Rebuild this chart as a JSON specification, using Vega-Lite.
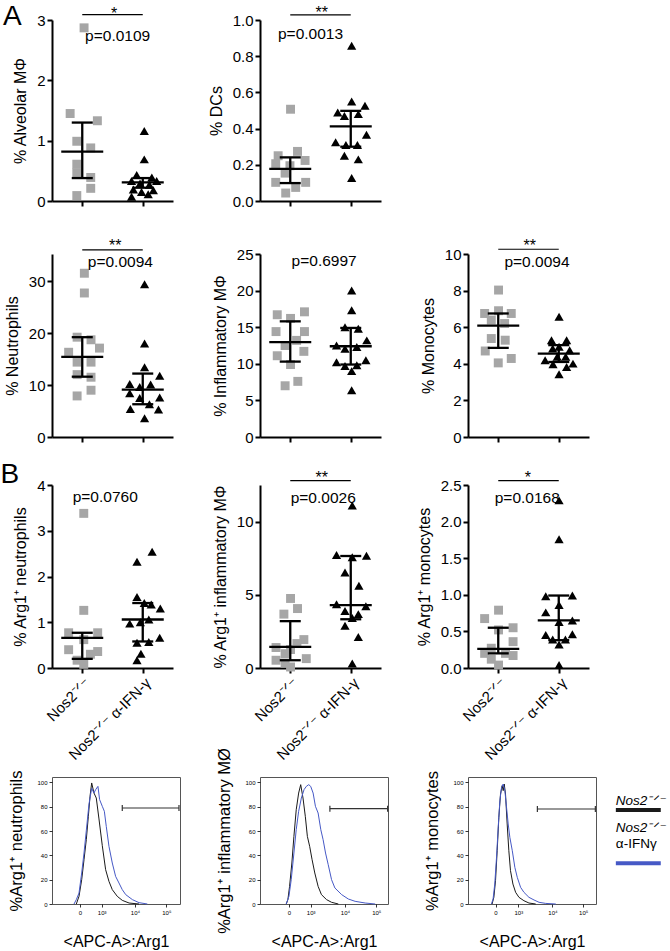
{
"$schema": "https://vega.github.io/schema/vega-lite/v6.json",
"autosize": "none",
"padding": {"left": 52, "top": 20, "right": 618, "bottom": 931},
"columns": 3,
"spacing": {"row": 0, "column": 80},
"bounds": "flush",
"align": "each",
"datasets": {
"pts": [
{"panel":"alv","group":"N","x":1.06,"y":2.87},{"panel":"alv","group":"N","x":0.60,"y":1.45},{"panel":"alv","group":"N","x":1.50,"y":1.33},{"panel":"alv","group":"N","x":0.82,"y":0.99},{"panel":"alv","group":"N","x":1.28,"y":0.88},{"panel":"alv","group":"N","x":0.82,"y":0.61},{"panel":"alv","group":"N","x":0.82,"y":0.47},{"panel":"alv","group":"N","x":1.28,"y":0.39},{"panel":"alv","group":"N","x":1.28,"y":0.21},{"panel":"alv","group":"N","x":0.82,"y":0.09},
{"panel":"alv","group":"I","x":3.05,"y":1.16},{"panel":"alv","group":"I","x":3.05,"y":0.69},{"panel":"alv","group":"I","x":2.80,"y":0.43},{"panel":"alv","group":"I","x":3.30,"y":0.39},{"panel":"alv","group":"I","x":2.63,"y":0.33},{"panel":"alv","group":"I","x":3.46,"y":0.33},{"panel":"alv","group":"I","x":2.91,"y":0.29},{"panel":"alv","group":"I","x":3.22,"y":0.27},{"panel":"alv","group":"I","x":2.69,"y":0.19},{"panel":"alv","group":"I","x":3.35,"y":0.18},{"panel":"alv","group":"I","x":2.96,"y":0.15},{"panel":"alv","group":"I","x":3.18,"y":0.11},{"panel":"alv","group":"I","x":2.63,"y":0.07},
{"panel":"dc","group":"N","x":1.01,"y":0.507},{"panel":"dc","group":"N","x":0.60,"y":0.25},{"panel":"dc","group":"N","x":1.24,"y":0.274},{"panel":"dc","group":"N","x":1.49,"y":0.224},{"panel":"dc","group":"N","x":0.52,"y":0.206},{"panel":"dc","group":"N","x":0.99,"y":0.195},{"panel":"dc","group":"N","x":0.83,"y":0.154},{"panel":"dc","group":"N","x":0.52,"y":0.103},{"panel":"dc","group":"N","x":1.51,"y":0.103},{"panel":"dc","group":"N","x":1.18,"y":0.075},{"panel":"dc","group":"N","x":0.85,"y":0.044},
{"panel":"dc","group":"I","x":3.03,"y":0.858},{"panel":"dc","group":"I","x":3.03,"y":0.55},{"panel":"dc","group":"I","x":2.57,"y":0.489},{"panel":"dc","group":"I","x":3.47,"y":0.526},{"panel":"dc","group":"I","x":2.79,"y":0.47},{"panel":"dc","group":"I","x":3.25,"y":0.48},{"panel":"dc","group":"I","x":3.52,"y":0.366},{"panel":"dc","group":"I","x":2.50,"y":0.324},{"panel":"dc","group":"I","x":2.84,"y":0.31},{"panel":"dc","group":"I","x":3.22,"y":0.31},{"panel":"dc","group":"I","x":2.79,"y":0.25},{"panel":"dc","group":"I","x":3.25,"y":0.23},{"panel":"dc","group":"I","x":3.03,"y":0.127},
{"panel":"neu","group":"N","x":1.07,"y":31.5},{"panel":"neu","group":"N","x":1.07,"y":27.7},{"panel":"neu","group":"N","x":0.83,"y":19.2},{"panel":"neu","group":"N","x":1.29,"y":18.7},{"panel":"neu","group":"N","x":0.55,"y":16.3},{"panel":"neu","group":"N","x":1.57,"y":17.1},{"panel":"neu","group":"N","x":0.83,"y":14.4},{"panel":"neu","group":"N","x":1.29,"y":14.4},{"panel":"neu","group":"N","x":0.83,"y":12.0},{"panel":"neu","group":"N","x":1.29,"y":11.5},{"panel":"neu","group":"N","x":1.29,"y":9.0},{"panel":"neu","group":"N","x":0.83,"y":7.9},
{"panel":"neu","group":"I","x":3.06,"y":29.4},{"panel":"neu","group":"I","x":3.06,"y":18.0},{"panel":"neu","group":"I","x":3.06,"y":13.4},{"panel":"neu","group":"I","x":3.56,"y":11.8},{"panel":"neu","group":"I","x":2.57,"y":10.2},{"panel":"neu","group":"I","x":2.90,"y":9.6},{"panel":"neu","group":"I","x":3.26,"y":10.1},{"panel":"neu","group":"I","x":2.57,"y":8.4},{"panel":"neu","group":"I","x":2.90,"y":7.5},{"panel":"neu","group":"I","x":3.56,"y":7.6},{"panel":"neu","group":"I","x":3.22,"y":6.3},{"panel":"neu","group":"I","x":2.59,"y":5.4},{"panel":"neu","group":"I","x":3.52,"y":5.3},{"panel":"neu","group":"I","x":3.06,"y":3.6},
{"panel":"inf","group":"N","x":0.57,"y":16.7},{"panel":"inf","group":"N","x":1.01,"y":16.2},{"panel":"inf","group":"N","x":1.47,"y":17.1},{"panel":"inf","group":"N","x":1.47,"y":14.4},{"panel":"inf","group":"N","x":0.53,"y":14.4},{"panel":"inf","group":"N","x":1.21,"y":13.2},{"panel":"inf","group":"N","x":0.83,"y":12.5},{"panel":"inf","group":"N","x":0.57,"y":11.1},{"panel":"inf","group":"N","x":1.45,"y":11.7},{"panel":"inf","group":"N","x":1.01,"y":9.9},{"panel":"inf","group":"N","x":1.25,"y":7.6},{"panel":"inf","group":"N","x":0.83,"y":7.0},
{"panel":"inf","group":"I","x":3.03,"y":20.0},{"panel":"inf","group":"I","x":3.03,"y":17.3},{"panel":"inf","group":"I","x":2.81,"y":15.0},{"panel":"inf","group":"I","x":3.25,"y":14.8},{"panel":"inf","group":"I","x":2.53,"y":12.5},{"panel":"inf","group":"I","x":2.81,"y":12.05},{"panel":"inf","group":"I","x":3.20,"y":12.3},{"panel":"inf","group":"I","x":3.53,"y":13.2},{"panel":"inf","group":"I","x":2.53,"y":10.2},{"panel":"inf","group":"I","x":2.81,"y":9.7},{"panel":"inf","group":"I","x":3.20,"y":9.8},{"panel":"inf","group":"I","x":3.50,"y":10.5},{"panel":"inf","group":"I","x":3.03,"y":9.0},{"panel":"inf","group":"I","x":3.03,"y":6.4},
{"panel":"mon","group":"N","x":1.01,"y":8.03},{"panel":"mon","group":"N","x":0.55,"y":6.75},{"panel":"mon","group":"N","x":1.01,"y":6.9},{"panel":"mon","group":"N","x":1.43,"y":6.75},{"panel":"mon","group":"N","x":0.77,"y":6.39},{"panel":"mon","group":"N","x":1.21,"y":6.2},{"panel":"mon","group":"N","x":0.77,"y":5.38},{"panel":"mon","group":"N","x":1.23,"y":5.29},{"panel":"mon","group":"N","x":0.57,"y":4.7},{"panel":"mon","group":"N","x":1.43,"y":4.29},{"panel":"mon","group":"N","x":1.0,"y":4.05},
{"panel":"mon","group":"I","x":3.01,"y":6.57},{"panel":"mon","group":"I","x":2.76,"y":5.29},{"panel":"mon","group":"I","x":3.26,"y":5.29},{"panel":"mon","group":"I","x":2.80,"y":4.84},{"panel":"mon","group":"I","x":3.01,"y":4.93},{"panel":"mon","group":"I","x":3.36,"y":4.74},{"panel":"mon","group":"I","x":2.55,"y":4.2},{"panel":"mon","group":"I","x":2.95,"y":4.38},{"panel":"mon","group":"I","x":3.23,"y":4.38},{"panel":"mon","group":"I","x":3.47,"y":4.01},{"panel":"mon","group":"I","x":2.81,"y":3.98},{"panel":"mon","group":"I","x":3.26,"y":3.83},{"panel":"mon","group":"I","x":3.01,"y":3.43},
{"panel":"aneu","group":"N","x":1.05,"y":3.38},{"panel":"aneu","group":"N","x":1.05,"y":1.26},{"panel":"aneu","group":"N","x":0.55,"y":0.77},{"panel":"aneu","group":"N","x":1.51,"y":0.77},{"panel":"aneu","group":"N","x":1.05,"y":0.62},{"panel":"aneu","group":"N","x":0.55,"y":0.40},{"panel":"aneu","group":"N","x":1.51,"y":0.36},{"panel":"aneu","group":"N","x":1.27,"y":0.30},{"panel":"aneu","group":"N","x":0.83,"y":0.17},{"panel":"aneu","group":"N","x":1.05,"y":0.08},
{"panel":"aneu","group":"I","x":3.31,"y":2.54},{"panel":"aneu","group":"I","x":2.81,"y":2.32},{"panel":"aneu","group":"I","x":2.81,"y":1.55},{"panel":"aneu","group":"I","x":3.05,"y":1.42},{"panel":"aneu","group":"I","x":3.28,"y":1.39},{"panel":"aneu","group":"I","x":3.58,"y":1.30},{"panel":"aneu","group":"I","x":2.57,"y":0.97},{"panel":"aneu","group":"I","x":2.92,"y":1.0},{"panel":"aneu","group":"I","x":3.20,"y":1.06},{"panel":"aneu","group":"I","x":3.56,"y":0.66},{"panel":"aneu","group":"I","x":2.81,"y":0.55},{"panel":"aneu","group":"I","x":3.20,"y":0.57},{"panel":"aneu","group":"I","x":2.94,"y":0.31},{"panel":"aneu","group":"I","x":2.81,"y":0.17},
{"panel":"ainf","group":"N","x":1.01,"y":4.75},{"panel":"ainf","group":"N","x":1.24,"y":4.06},{"panel":"ainf","group":"N","x":0.79,"y":3.68},{"panel":"ainf","group":"N","x":1.45,"y":1.94},{"panel":"ainf","group":"N","x":1.22,"y":1.67},{"panel":"ainf","group":"N","x":0.53,"y":1.4},{"panel":"ainf","group":"N","x":1.01,"y":1.26},{"panel":"ainf","group":"N","x":0.83,"y":0.98},{"panel":"ainf","group":"N","x":0.53,"y":0.53},{"panel":"ainf","group":"N","x":1.53,"y":0.64},{"panel":"ainf","group":"N","x":0.83,"y":0.34},{"panel":"ainf","group":"N","x":1.01,"y":0.07},
{"panel":"ainf","group":"I","x":3.05,"y":11.1},{"panel":"ainf","group":"I","x":2.53,"y":7.72},{"panel":"ainf","group":"I","x":3.05,"y":7.56},{"panel":"ainf","group":"I","x":3.52,"y":7.67},{"panel":"ainf","group":"I","x":2.81,"y":6.53},{"panel":"ainf","group":"I","x":3.27,"y":5.62},{"panel":"ainf","group":"I","x":2.53,"y":4.36},{"panel":"ainf","group":"I","x":3.50,"y":4.22},{"panel":"ainf","group":"I","x":2.81,"y":3.9},{"panel":"ainf","group":"I","x":3.25,"y":3.68},{"panel":"ainf","group":"I","x":3.05,"y":3.42},{"panel":"ainf","group":"I","x":2.81,"y":2.88},{"panel":"ainf","group":"I","x":3.25,"y":2.12},{"panel":"ainf","group":"I","x":3.05,"y":0.3},
{"panel":"amon","group":"N","x":1.01,"y":0.79},{"panel":"amon","group":"N","x":0.55,"y":0.675},{"panel":"amon","group":"N","x":1.49,"y":0.55},{"panel":"amon","group":"N","x":1.01,"y":0.52},{"panel":"amon","group":"N","x":1.49,"y":0.36},{"panel":"amon","group":"N","x":0.77,"y":0.27},{"panel":"amon","group":"N","x":0.55,"y":0.20},{"panel":"amon","group":"N","x":1.24,"y":0.20},{"panel":"amon","group":"N","x":1.49,"y":0.17},{"panel":"amon","group":"N","x":0.77,"y":0.12},{"panel":"amon","group":"N","x":1.01,"y":0.04},
{"panel":"amon","group":"I","x":3.01,"y":2.29},{"panel":"amon","group":"I","x":3.01,"y":1.76},{"panel":"amon","group":"I","x":2.57,"y":0.98},{"panel":"amon","group":"I","x":3.45,"y":0.99},{"panel":"amon","group":"I","x":2.57,"y":0.76},{"panel":"amon","group":"I","x":3.01,"y":0.86},{"panel":"amon","group":"I","x":3.01,"y":0.63},{"panel":"amon","group":"I","x":3.45,"y":0.65},{"panel":"amon","group":"I","x":2.57,"y":0.45},{"panel":"amon","group":"I","x":3.45,"y":0.46},{"panel":"amon","group":"I","x":2.80,"y":0.39},{"panel":"amon","group":"I","x":3.22,"y":0.39},{"panel":"amon","group":"I","x":3.01,"y":0.32},{"panel":"amon","group":"I","x":3.01,"y":0.04}
],
"stats": [
{"panel":"alv","group":"N","x":1,"med":0.82,"lo":0.38,"hi":1.30},{"panel":"alv","group":"I","x":3,"med":0.31,"lo":0.22,"hi":0.38},
{"panel":"dc","group":"N","x":1,"med":0.178,"lo":0.099,"hi":0.241},{"panel":"dc","group":"I","x":3,"med":0.412,"lo":0.30,"hi":0.498},
{"panel":"neu","group":"N","x":1,"med":15.4,"lo":11.6,"hi":19.2},{"panel":"neu","group":"I","x":3,"med":9.1,"lo":6.3,"hi":12.2},
{"panel":"inf","group":"N","x":1,"med":12.95,"lo":10.3,"hi":15.8},{"panel":"inf","group":"I","x":3,"med":12.4,"lo":9.9,"hi":14.9},
{"panel":"mon","group":"N","x":1,"med":6.09,"lo":4.87,"hi":6.75},{"panel":"mon","group":"I","x":3,"med":4.56,"lo":4.1,"hi":5.02},
{"panel":"aneu","group":"N","x":1,"med":0.66,"lo":0.2,"hi":0.77},{"panel":"aneu","group":"I","x":3,"med":1.06,"lo":0.58,"hi":1.42},
{"panel":"ainf","group":"N","x":1,"med":1.44,"lo":0.53,"hi":3.2},{"panel":"ainf","group":"I","x":3,"med":4.29,"lo":3.33,"hi":7.65},
{"panel":"amon","group":"N","x":1,"med":0.26,"lo":0.2,"hi":0.55},{"panel":"amon","group":"I","x":3,"med":0.65,"lo":0.38,"hi":0.99}
],
"sig": [
{"panel":"alv","x1":1,"x2":3,"y":3.09},{"panel":"dc","x1":1,"x2":3,"y":1.028},{"panel":"neu","x1":1,"x2":3,"y":36.0},{"panel":"mon","x1":1,"x2":3,"y":10.26},{"panel":"ainf","x1":1,"x2":3,"y":12.8},{"panel":"amon","x1":1,"x2":3,"y":2.56}
],
"ann": [
{"panel":"alv","kind":"p","label":"p=0.0109","x":2.17,"y":2.66},{"panel":"alv","kind":"star","label":"*","x":2.05,"y":3.02},{"panel":"alv","kind":"letter","label":"A","x":-1.31,"y":2.92},
{"panel":"dc","kind":"p","label":"p=0.0013","x":1.67,"y":0.894},{"panel":"dc","kind":"star","label":"**","x":2.04,"y":1.012},
{"panel":"neu","kind":"p","label":"p=0.0094","x":2.26,"y":32.75},{"panel":"neu","kind":"star","label":"**","x":2.09,"y":35.7},
{"panel":"inf","kind":"p","label":"p=0.6997","x":2.12,"y":23.3},
{"panel":"mon","kind":"p","label":"p=0.0094","x":2.28,"y":9.3},{"panel":"mon","kind":"star","label":"**","x":2.04,"y":10.15},
{"panel":"aneu","kind":"p","label":"p=0.0760","x":1.76,"y":3.63},{"panel":"aneu","kind":"letter","label":"B","x":-1.39,"y":4.04},
{"panel":"ainf","kind":"p","label":"p=0.0026","x":2.09,"y":11.3},{"panel":"ainf","kind":"star","label":"**","x":2.04,"y":12.65},
{"panel":"amon","kind":"p","label":"p=0.0168","x":1.96,"y":2.26},{"panel":"amon","kind":"star","label":"*","x":1.98,"y":2.53}
],
"hist": [
{"panel":"h1","cond":"ctrl","x":19.0,"y":0},{"panel":"h1","cond":"ctrl","x":21.1,"y":6.3},{"panel":"h1","cond":"ctrl","x":23.2,"y":20.0},{"panel":"h1","cond":"ctrl","x":25.0,"y":36.4},{"panel":"h1","cond":"ctrl","x":26.8,"y":52.9},{"panel":"h1","cond":"ctrl","x":28.4,"y":72.1},{"panel":"h1","cond":"ctrl","x":29.7,"y":88.5},{"panel":"h1","cond":"ctrl","x":31.0,"y":99.5},{"panel":"h1","cond":"ctrl","x":32.8,"y":91.2},{"panel":"h1","cond":"ctrl","x":34.6,"y":87.1},{"panel":"h1","cond":"ctrl","x":36.7,"y":69.9},{"panel":"h1","cond":"ctrl","x":39.3,"y":47.9},{"panel":"h1","cond":"ctrl","x":41.9,"y":28.2},{"panel":"h1","cond":"ctrl","x":44.5,"y":18.6},{"panel":"h1","cond":"ctrl","x":47.1,"y":11.8},{"panel":"h1","cond":"ctrl","x":51.0,"y":6.3},{"panel":"h1","cond":"ctrl","x":54.9,"y":3.0},{"panel":"h1","cond":"ctrl","x":60.2,"y":0.8},{"panel":"h1","cond":"ctrl","x":68.0,"y":0},
{"panel":"h1","cond":"treated","x":17.2,"y":0},{"panel":"h1","cond":"treated","x":19.0,"y":3.6},{"panel":"h1","cond":"treated","x":21.1,"y":9.0},{"panel":"h1","cond":"treated","x":23.2,"y":25.5},{"panel":"h1","cond":"treated","x":25.0,"y":41.9},{"panel":"h1","cond":"treated","x":26.8,"y":60.3},{"panel":"h1","cond":"treated","x":28.9,"y":82.2},{"panel":"h1","cond":"treated","x":31.0,"y":95.1},{"panel":"h1","cond":"treated","x":32.8,"y":91.2},{"panel":"h1","cond":"treated","x":34.1,"y":94.0},{"panel":"h1","cond":"treated","x":35.9,"y":96.7},{"panel":"h1","cond":"treated","x":37.2,"y":85.8},{"panel":"h1","cond":"treated","x":39.3,"y":80.3},{"panel":"h1","cond":"treated","x":40.9,"y":76.2},{"panel":"h1","cond":"treated","x":42.4,"y":63.8},{"panel":"h1","cond":"treated","x":44.5,"y":47.4},{"panel":"h1","cond":"treated","x":47.1,"y":33.7},{"panel":"h1","cond":"treated","x":49.7,"y":22.7},{"panel":"h1","cond":"treated","x":52.3,"y":17.3},{"panel":"h1","cond":"treated","x":54.9,"y":11.8},{"panel":"h1","cond":"treated","x":57.6,"y":7.7},{"panel":"h1","cond":"treated","x":62.8,"y":3.6},{"panel":"h1","cond":"treated","x":68.0,"y":1.1},{"panel":"h1","cond":"treated","x":74.5,"y":0},
{"panel":"h2","cond":"ctrl","x":20.5,"y":0},{"panel":"h2","cond":"ctrl","x":21.8,"y":3.6},{"panel":"h2","cond":"ctrl","x":23.1,"y":14.5},{"panel":"h2","cond":"ctrl","x":24.9,"y":33.7},{"panel":"h2","cond":"ctrl","x":26.5,"y":55.6},{"panel":"h2","cond":"ctrl","x":28.3,"y":77.5},{"panel":"h2","cond":"ctrl","x":30.2,"y":91.2},{"panel":"h2","cond":"ctrl","x":31.8,"y":98.1},{"panel":"h2","cond":"ctrl","x":33.6,"y":87.1},{"panel":"h2","cond":"ctrl","x":35.4,"y":72.1},{"panel":"h2","cond":"ctrl","x":37.0,"y":55.6},{"panel":"h2","cond":"ctrl","x":38.8,"y":47.4},{"panel":"h2","cond":"ctrl","x":40.7,"y":36.4},{"panel":"h2","cond":"ctrl","x":42.8,"y":25.5},{"panel":"h2","cond":"ctrl","x":45.4,"y":14.5},{"panel":"h2","cond":"ctrl","x":48.0,"y":7.7},{"panel":"h2","cond":"ctrl","x":52.0,"y":3.6},{"panel":"h2","cond":"ctrl","x":55.9,"y":1.4},{"panel":"h2","cond":"ctrl","x":61.2,"y":0},
{"panel":"h2","cond":"treated","x":20.5,"y":0},{"panel":"h2","cond":"treated","x":22.6,"y":6.3},{"panel":"h2","cond":"treated","x":24.4,"y":20.0},{"panel":"h2","cond":"treated","x":26.5,"y":41.9},{"panel":"h2","cond":"treated","x":28.3,"y":61.1},{"panel":"h2","cond":"treated","x":30.2,"y":76.2},{"panel":"h2","cond":"treated","x":32.3,"y":87.1},{"panel":"h2","cond":"treated","x":34.4,"y":94.0},{"panel":"h2","cond":"treated","x":36.2,"y":96.7},{"panel":"h2","cond":"treated","x":38.1,"y":98.1},{"panel":"h2","cond":"treated","x":39.6,"y":96.7},{"panel":"h2","cond":"treated","x":41.5,"y":91.2},{"panel":"h2","cond":"treated","x":43.3,"y":80.3},{"panel":"h2","cond":"treated","x":45.4,"y":74.8},{"panel":"h2","cond":"treated","x":47.5,"y":61.1},{"panel":"h2","cond":"treated","x":49.3,"y":52.9},{"panel":"h2","cond":"treated","x":51.2,"y":41.9},{"panel":"h2","cond":"treated","x":53.3,"y":32.3},{"panel":"h2","cond":"treated","x":55.9,"y":20.0},{"panel":"h2","cond":"treated","x":58.5,"y":13.2},{"panel":"h2","cond":"treated","x":63.8,"y":7.7},{"panel":"h2","cond":"treated","x":69.0,"y":4.1},{"panel":"h2","cond":"treated","x":74.3,"y":2.2},{"panel":"h2","cond":"treated","x":82.2,"y":0.8},{"panel":"h2","cond":"treated","x":90.0,"y":0},
{"panel":"h3","cond":"ctrl","x":18.8,"y":0},{"panel":"h3","cond":"ctrl","x":20.2,"y":5.5},{"panel":"h3","cond":"ctrl","x":21.5,"y":19.2},{"panel":"h3","cond":"ctrl","x":22.8,"y":43.8},{"panel":"h3","cond":"ctrl","x":24.1,"y":71.2},{"panel":"h3","cond":"ctrl","x":25.4,"y":90.4},{"panel":"h3","cond":"ctrl","x":26.7,"y":97.3},{"panel":"h3","cond":"ctrl","x":27.5,"y":93.2},{"panel":"h3","cond":"ctrl","x":28.3,"y":98.6},{"panel":"h3","cond":"ctrl","x":29.3,"y":90.4},{"panel":"h3","cond":"ctrl","x":30.6,"y":65.8},{"panel":"h3","cond":"ctrl","x":31.9,"y":43.8},{"panel":"h3","cond":"ctrl","x":33.2,"y":27.4},{"panel":"h3","cond":"ctrl","x":35.1,"y":16.4},{"panel":"h3","cond":"ctrl","x":37.2,"y":9.6},{"panel":"h3","cond":"ctrl","x":39.8,"y":5.5},{"panel":"h3","cond":"ctrl","x":43.7,"y":2.7},{"panel":"h3","cond":"ctrl","x":47.6,"y":0.8},{"panel":"h3","cond":"ctrl","x":52.9,"y":0},
{"panel":"h3","cond":"treated","x":18.3,"y":0},{"panel":"h3","cond":"treated","x":19.6,"y":4.1},{"panel":"h3","cond":"treated","x":20.9,"y":16.4},{"panel":"h3","cond":"treated","x":22.3,"y":38.4},{"panel":"h3","cond":"treated","x":23.6,"y":63.0},{"panel":"h3","cond":"treated","x":24.9,"y":84.9},{"panel":"h3","cond":"treated","x":26.2,"y":95.9},{"panel":"h3","cond":"treated","x":27.5,"y":98.6},{"panel":"h3","cond":"treated","x":28.8,"y":93.2},{"panel":"h3","cond":"treated","x":30.1,"y":79.5},{"panel":"h3","cond":"treated","x":31.4,"y":65.8},{"panel":"h3","cond":"treated","x":32.7,"y":54.8},{"panel":"h3","cond":"treated","x":34.6,"y":43.8},{"panel":"h3","cond":"treated","x":36.6,"y":30.1},{"panel":"h3","cond":"treated","x":38.5,"y":21.9},{"panel":"h3","cond":"treated","x":41.1,"y":13.7},{"panel":"h3","cond":"treated","x":43.7,"y":9.6},{"panel":"h3","cond":"treated","x":47.6,"y":5.5},{"panel":"h3","cond":"treated","x":51.6,"y":3.3},{"panel":"h3","cond":"treated","x":55.5,"y":1.4},{"panel":"h3","cond":"treated","x":60.7,"y":0.5},{"panel":"h3","cond":"treated","x":68.6,"y":0}
],
"gate": [
{"panel":"h1","x1":54.9,"x2":99.2,"y":78.9},{"panel":"h2","x1":54.6,"x2":99.7,"y":78.4},{"panel":"h3","x1":54.2,"x2":99.5,"y":78.1}
],
"legendText": [
{"part":"strain","label":"Nos2⁻ᐟ⁻","x":115.5,"y":81.4},{"part":"strain","label":"Nos2⁻ᐟ⁻","x":115.5,"y":59.5},{"part":"treatment","label":"α-IFNγ","x":115.5,"y":46}
],
"legendBars": [
{"cond":"ctrl","x1":115.5,"x2":150.6,"y":77.3},{"cond":"treated","x1":115.5,"x2":150.6,"y":33.5}
]
},
"concat": [
{"width":121,"height":181,
 "encoding":{"x":{"field":"x","type":"quantitative","scale":{"domain":[0,4]},"axis":{"values":[1,3],"labels":false,"title":null}},
  "y":{"field":"y","type":"quantitative","scale":{"domain":[0,3]},"axis":{"values":[0,1,2,3],"title":"% Alveolar MΦ"}}},
 "layer":[
  {"data":{"name":"pts"},"transform":[{"filter":"datum.panel=='alv' && datum.group=='N'"}],"mark":{"type":"point","shape":"square","filled":true,"size":80,"color":"#a6a6a6","opacity":1}},
  {"data":{"name":"pts"},"transform":[{"filter":"datum.panel=='alv' && datum.group=='I'"}],"mark":{"type":"point","shape":"triangle-up","filled":true,"size":85,"color":"#000000","opacity":1}},
  {"data":{"name":"stats"},"transform":[{"filter":"datum.panel=='alv'"}],"mark":{"type":"rule","color":"#000000","strokeWidth":2.3},"encoding":{"y":{"field":"lo","type":"quantitative"},"y2":{"field":"hi"}}},
  {"data":{"name":"stats"},"transform":[{"filter":"datum.panel=='alv'"}],"mark":{"type":"tick","orient":"horizontal","size":42,"thickness":2.3,"color":"#000000","opacity":1},"encoding":{"y":{"field":"med","type":"quantitative"}}},
  {"data":{"name":"stats"},"transform":[{"filter":"datum.panel=='alv'"}],"mark":{"type":"tick","orient":"horizontal","size":21,"thickness":2.3,"color":"#000000","opacity":1},"encoding":{"y":{"field":"lo","type":"quantitative"}}},
  {"data":{"name":"stats"},"transform":[{"filter":"datum.panel=='alv'"}],"mark":{"type":"tick","orient":"horizontal","size":21,"thickness":2.3,"color":"#000000","opacity":1},"encoding":{"y":{"field":"hi","type":"quantitative"}}},
  {"data":{"name":"sig"},"transform":[{"filter":"datum.panel=='alv'"}],"mark":{"type":"rule","color":"#000000","strokeWidth":1.2},"encoding":{"x":{"field":"x1","type":"quantitative"},"x2":{"field":"x2"}}},
  {"data":{"name":"ann"},"transform":[{"filter":"datum.panel=='alv'"}],"mark":{"type":"text","color":"#000000","baseline":"alphabetic","align":"center"},"encoding":{"text":{"field":"label"},"size":{"condition":[{"test":"datum.kind=='letter'","value":28},{"test":"datum.kind=='star'","value":16}],"value":15.5}}}
 ]},
{"width":121,"height":181,
 "encoding":{"x":{"field":"x","type":"quantitative","scale":{"domain":[0,4]},"axis":{"values":[1,3],"labels":false,"title":null}},
  "y":{"field":"y","type":"quantitative","scale":{"domain":[0,1]},"axis":{"values":[0,0.2,0.4,0.6,0.8,1.0],"format":".1f","title":"% DCs"}}},
 "layer":[
  {"data":{"name":"pts"},"transform":[{"filter":"datum.panel=='dc' && datum.group=='N'"}],"mark":{"type":"point","shape":"square","filled":true,"size":80,"color":"#a6a6a6","opacity":1}},
  {"data":{"name":"pts"},"transform":[{"filter":"datum.panel=='dc' && datum.group=='I'"}],"mark":{"type":"point","shape":"triangle-up","filled":true,"size":85,"color":"#000000","opacity":1}},
  {"data":{"name":"stats"},"transform":[{"filter":"datum.panel=='dc'"}],"mark":{"type":"rule","color":"#000000","strokeWidth":2.3},"encoding":{"y":{"field":"lo","type":"quantitative"},"y2":{"field":"hi"}}},
  {"data":{"name":"stats"},"transform":[{"filter":"datum.panel=='dc'"}],"mark":{"type":"tick","orient":"horizontal","size":42,"thickness":2.3,"color":"#000000","opacity":1},"encoding":{"y":{"field":"med","type":"quantitative"}}},
  {"data":{"name":"stats"},"transform":[{"filter":"datum.panel=='dc'"}],"mark":{"type":"tick","orient":"horizontal","size":21,"thickness":2.3,"color":"#000000","opacity":1},"encoding":{"y":{"field":"lo","type":"quantitative"}}},
  {"data":{"name":"stats"},"transform":[{"filter":"datum.panel=='dc'"}],"mark":{"type":"tick","orient":"horizontal","size":21,"thickness":2.3,"color":"#000000","opacity":1},"encoding":{"y":{"field":"hi","type":"quantitative"}}},
  {"data":{"name":"sig"},"transform":[{"filter":"datum.panel=='dc'"}],"mark":{"type":"rule","color":"#000000","strokeWidth":1.2},"encoding":{"x":{"field":"x1","type":"quantitative"},"x2":{"field":"x2"}}},
  {"data":{"name":"ann"},"transform":[{"filter":"datum.panel=='dc'"}],"mark":{"type":"text","color":"#000000","baseline":"alphabetic","align":"center"},"encoding":{"text":{"field":"label"},"size":{"condition":[{"test":"datum.kind=='letter'","value":28},{"test":"datum.kind=='star'","value":16}],"value":15.5}}}
 ]},
{"width":10,"height":100,"data":{"values":[{}]},"mark":{"type":"point","opacity":0},"encoding":{}},
{"width":10,"height":53,"data":{"values":[{}]},"mark":{"type":"point","opacity":0},"encoding":{}},
{"width":10,"height":53,"data":{"values":[{}]},"mark":{"type":"point","opacity":0},"encoding":{}},
{"width":10,"height":53,"data":{"values":[{}]},"mark":{"type":"point","opacity":0},"encoding":{}},
{"width":121,"height":183,
 "encoding":{"x":{"field":"x","type":"quantitative","scale":{"domain":[0,4]},"axis":{"values":[1,3],"labels":false,"title":null}},
  "y":{"field":"y","type":"quantitative","scale":{"domain":[0,35.2]},"axis":{"values":[0,10,20,30],"title":"% Neutrophils"}}},
 "layer":[
  {"data":{"name":"pts"},"transform":[{"filter":"datum.panel=='neu' && datum.group=='N'"}],"mark":{"type":"point","shape":"square","filled":true,"size":80,"color":"#a6a6a6","opacity":1}},
  {"data":{"name":"pts"},"transform":[{"filter":"datum.panel=='neu' && datum.group=='I'"}],"mark":{"type":"point","shape":"triangle-up","filled":true,"size":85,"color":"#000000","opacity":1}},
  {"data":{"name":"stats"},"transform":[{"filter":"datum.panel=='neu'"}],"mark":{"type":"rule","color":"#000000","strokeWidth":2.3},"encoding":{"y":{"field":"lo","type":"quantitative"},"y2":{"field":"hi"}}},
  {"data":{"name":"stats"},"transform":[{"filter":"datum.panel=='neu'"}],"mark":{"type":"tick","orient":"horizontal","size":42,"thickness":2.3,"color":"#000000","opacity":1},"encoding":{"y":{"field":"med","type":"quantitative"}}},
  {"data":{"name":"stats"},"transform":[{"filter":"datum.panel=='neu'"}],"mark":{"type":"tick","orient":"horizontal","size":21,"thickness":2.3,"color":"#000000","opacity":1},"encoding":{"y":{"field":"lo","type":"quantitative"}}},
  {"data":{"name":"stats"},"transform":[{"filter":"datum.panel=='neu'"}],"mark":{"type":"tick","orient":"horizontal","size":21,"thickness":2.3,"color":"#000000","opacity":1},"encoding":{"y":{"field":"hi","type":"quantitative"}}},
  {"data":{"name":"sig"},"transform":[{"filter":"datum.panel=='neu'"}],"mark":{"type":"rule","color":"#000000","strokeWidth":1.2},"encoding":{"x":{"field":"x1","type":"quantitative"},"x2":{"field":"x2"}}},
  {"data":{"name":"ann"},"transform":[{"filter":"datum.panel=='neu'"}],"mark":{"type":"text","color":"#000000","baseline":"alphabetic","align":"center"},"encoding":{"text":{"field":"label"},"size":{"condition":[{"test":"datum.kind=='letter'","value":28},{"test":"datum.kind=='star'","value":16}],"value":15.5}}}
 ]},
{"width":121,"height":183,
 "encoding":{"x":{"field":"x","type":"quantitative","scale":{"domain":[0,4]},"axis":{"values":[1,3],"labels":false,"title":null}},
  "y":{"field":"y","type":"quantitative","scale":{"domain":[0,25]},"axis":{"values":[0,5,10,15,20,25],"title":"% Inflammatory MΦ"}}},
 "layer":[
  {"data":{"name":"pts"},"transform":[{"filter":"datum.panel=='inf' && datum.group=='N'"}],"mark":{"type":"point","shape":"square","filled":true,"size":80,"color":"#a6a6a6","opacity":1}},
  {"data":{"name":"pts"},"transform":[{"filter":"datum.panel=='inf' && datum.group=='I'"}],"mark":{"type":"point","shape":"triangle-up","filled":true,"size":85,"color":"#000000","opacity":1}},
  {"data":{"name":"stats"},"transform":[{"filter":"datum.panel=='inf'"}],"mark":{"type":"rule","color":"#000000","strokeWidth":2.3},"encoding":{"y":{"field":"lo","type":"quantitative"},"y2":{"field":"hi"}}},
  {"data":{"name":"stats"},"transform":[{"filter":"datum.panel=='inf'"}],"mark":{"type":"tick","orient":"horizontal","size":42,"thickness":2.3,"color":"#000000","opacity":1},"encoding":{"y":{"field":"med","type":"quantitative"}}},
  {"data":{"name":"stats"},"transform":[{"filter":"datum.panel=='inf'"}],"mark":{"type":"tick","orient":"horizontal","size":21,"thickness":2.3,"color":"#000000","opacity":1},"encoding":{"y":{"field":"lo","type":"quantitative"}}},
  {"data":{"name":"stats"},"transform":[{"filter":"datum.panel=='inf'"}],"mark":{"type":"tick","orient":"horizontal","size":21,"thickness":2.3,"color":"#000000","opacity":1},"encoding":{"y":{"field":"hi","type":"quantitative"}}},
  {"data":{"name":"ann"},"transform":[{"filter":"datum.panel=='inf'"}],"mark":{"type":"text","color":"#000000","baseline":"alphabetic","align":"center"},"encoding":{"text":{"field":"label"},"size":{"condition":[{"test":"datum.kind=='letter'","value":28},{"test":"datum.kind=='star'","value":16}],"value":15.5}}}
 ]},
{"width":121,"height":183,
 "encoding":{"x":{"field":"x","type":"quantitative","scale":{"domain":[0,4]},"axis":{"values":[1,3],"labels":false,"title":null}},
  "y":{"field":"y","type":"quantitative","scale":{"domain":[0,10]},"axis":{"values":[0,2,4,6,8,10],"title":"% Monocytes"}}},
 "layer":[
  {"data":{"name":"pts"},"transform":[{"filter":"datum.panel=='mon' && datum.group=='N'"}],"mark":{"type":"point","shape":"square","filled":true,"size":80,"color":"#a6a6a6","opacity":1}},
  {"data":{"name":"pts"},"transform":[{"filter":"datum.panel=='mon' && datum.group=='I'"}],"mark":{"type":"point","shape":"triangle-up","filled":true,"size":85,"color":"#000000","opacity":1}},
  {"data":{"name":"stats"},"transform":[{"filter":"datum.panel=='mon'"}],"mark":{"type":"rule","color":"#000000","strokeWidth":2.3},"encoding":{"y":{"field":"lo","type":"quantitative"},"y2":{"field":"hi"}}},
  {"data":{"name":"stats"},"transform":[{"filter":"datum.panel=='mon'"}],"mark":{"type":"tick","orient":"horizontal","size":42,"thickness":2.3,"color":"#000000","opacity":1},"encoding":{"y":{"field":"med","type":"quantitative"}}},
  {"data":{"name":"stats"},"transform":[{"filter":"datum.panel=='mon'"}],"mark":{"type":"tick","orient":"horizontal","size":21,"thickness":2.3,"color":"#000000","opacity":1},"encoding":{"y":{"field":"lo","type":"quantitative"}}},
  {"data":{"name":"stats"},"transform":[{"filter":"datum.panel=='mon'"}],"mark":{"type":"tick","orient":"horizontal","size":21,"thickness":2.3,"color":"#000000","opacity":1},"encoding":{"y":{"field":"hi","type":"quantitative"}}},
  {"data":{"name":"sig"},"transform":[{"filter":"datum.panel=='mon'"}],"mark":{"type":"rule","color":"#000000","strokeWidth":1.2},"encoding":{"x":{"field":"x1","type":"quantitative"},"x2":{"field":"x2"}}},
  {"data":{"name":"ann"},"transform":[{"filter":"datum.panel=='mon'"}],"mark":{"type":"text","color":"#000000","baseline":"alphabetic","align":"center"},"encoding":{"text":{"field":"label"},"size":{"condition":[{"test":"datum.kind=='letter'","value":28},{"test":"datum.kind=='star'","value":16}],"value":15.5}}}
 ]},
{"width":10,"height":48,"data":{"values":[{}]},"mark":{"type":"point","opacity":0},"encoding":{}},
{"width":10,"height":48,"data":{"values":[{}]},"mark":{"type":"point","opacity":0},"encoding":{}},
{"width":10,"height":48,"data":{"values":[{}]},"mark":{"type":"point","opacity":0},"encoding":{}},
{"width":121,"height":183,
 "encoding":{"x":{"field":"x","type":"quantitative","scale":{"domain":[0,4]},"axis":{"values":[1,3],"title":null,"labelAngle":-45,"labelExpr":"datum.value < 2 ? 'Nos2⁻ᐟ⁻' : 'Nos2⁻ᐟ⁻ α-IFN-γ'"}},
  "y":{"field":"y","type":"quantitative","scale":{"domain":[0,4]},"axis":{"values":[0,1,2,3,4],"title":"% Arg1⁺ neutrophils"}}},
 "layer":[
  {"data":{"name":"pts"},"transform":[{"filter":"datum.panel=='aneu' && datum.group=='N'"}],"mark":{"type":"point","shape":"square","filled":true,"size":80,"color":"#a6a6a6","opacity":1}},
  {"data":{"name":"pts"},"transform":[{"filter":"datum.panel=='aneu' && datum.group=='I'"}],"mark":{"type":"point","shape":"triangle-up","filled":true,"size":85,"color":"#000000","opacity":1}},
  {"data":{"name":"stats"},"transform":[{"filter":"datum.panel=='aneu'"}],"mark":{"type":"rule","color":"#000000","strokeWidth":2.3},"encoding":{"y":{"field":"lo","type":"quantitative"},"y2":{"field":"hi"}}},
  {"data":{"name":"stats"},"transform":[{"filter":"datum.panel=='aneu'"}],"mark":{"type":"tick","orient":"horizontal","size":42,"thickness":2.3,"color":"#000000","opacity":1},"encoding":{"y":{"field":"med","type":"quantitative"}}},
  {"data":{"name":"stats"},"transform":[{"filter":"datum.panel=='aneu'"}],"mark":{"type":"tick","orient":"horizontal","size":21,"thickness":2.3,"color":"#000000","opacity":1},"encoding":{"y":{"field":"lo","type":"quantitative"}}},
  {"data":{"name":"stats"},"transform":[{"filter":"datum.panel=='aneu'"}],"mark":{"type":"tick","orient":"horizontal","size":21,"thickness":2.3,"color":"#000000","opacity":1},"encoding":{"y":{"field":"hi","type":"quantitative"}}},
  {"data":{"name":"ann"},"transform":[{"filter":"datum.panel=='aneu'"}],"mark":{"type":"text","color":"#000000","baseline":"alphabetic","align":"center"},"encoding":{"text":{"field":"label"},"size":{"condition":[{"test":"datum.kind=='letter'","value":28},{"test":"datum.kind=='star'","value":16}],"value":15.5}}}
 ]},
{"width":121,"height":183,
 "encoding":{"x":{"field":"x","type":"quantitative","scale":{"domain":[0,4]},"axis":{"values":[1,3],"title":null,"labelAngle":-45,"labelExpr":"datum.value < 2 ? 'Nos2⁻ᐟ⁻' : 'Nos2⁻ᐟ⁻ α-IFN-γ'"}},
  "y":{"field":"y","type":"quantitative","scale":{"domain":[0,12.5]},"axis":{"values":[0,5,10],"title":"% Arg1⁺ inflammatory MΦ"}}},
 "layer":[
  {"data":{"name":"pts"},"transform":[{"filter":"datum.panel=='ainf' && datum.group=='N'"}],"mark":{"type":"point","shape":"square","filled":true,"size":80,"color":"#a6a6a6","opacity":1}},
  {"data":{"name":"pts"},"transform":[{"filter":"datum.panel=='ainf' && datum.group=='I'"}],"mark":{"type":"point","shape":"triangle-up","filled":true,"size":85,"color":"#000000","opacity":1}},
  {"data":{"name":"stats"},"transform":[{"filter":"datum.panel=='ainf'"}],"mark":{"type":"rule","color":"#000000","strokeWidth":2.3},"encoding":{"y":{"field":"lo","type":"quantitative"},"y2":{"field":"hi"}}},
  {"data":{"name":"stats"},"transform":[{"filter":"datum.panel=='ainf'"}],"mark":{"type":"tick","orient":"horizontal","size":42,"thickness":2.3,"color":"#000000","opacity":1},"encoding":{"y":{"field":"med","type":"quantitative"}}},
  {"data":{"name":"stats"},"transform":[{"filter":"datum.panel=='ainf'"}],"mark":{"type":"tick","orient":"horizontal","size":21,"thickness":2.3,"color":"#000000","opacity":1},"encoding":{"y":{"field":"lo","type":"quantitative"}}},
  {"data":{"name":"stats"},"transform":[{"filter":"datum.panel=='ainf'"}],"mark":{"type":"tick","orient":"horizontal","size":21,"thickness":2.3,"color":"#000000","opacity":1},"encoding":{"y":{"field":"hi","type":"quantitative"}}},
  {"data":{"name":"sig"},"transform":[{"filter":"datum.panel=='ainf'"}],"mark":{"type":"rule","color":"#000000","strokeWidth":1.2},"encoding":{"x":{"field":"x1","type":"quantitative"},"x2":{"field":"x2"}}},
  {"data":{"name":"ann"},"transform":[{"filter":"datum.panel=='ainf'"}],"mark":{"type":"text","color":"#000000","baseline":"alphabetic","align":"center"},"encoding":{"text":{"field":"label"},"size":{"condition":[{"test":"datum.kind=='letter'","value":28},{"test":"datum.kind=='star'","value":16}],"value":15.5}}}
 ]},
{"width":121,"height":183,
 "encoding":{"x":{"field":"x","type":"quantitative","scale":{"domain":[0,4]},"axis":{"values":[1,3],"title":null,"labelAngle":-45,"labelExpr":"datum.value < 2 ? 'Nos2⁻ᐟ⁻' : 'Nos2⁻ᐟ⁻ α-IFN-γ'"}},
  "y":{"field":"y","type":"quantitative","scale":{"domain":[0,2.5]},"axis":{"values":[0,0.5,1,1.5,2,2.5],"format":".1f","title":"% Arg1⁺ monocytes"}}},
 "layer":[
  {"data":{"name":"pts"},"transform":[{"filter":"datum.panel=='amon' && datum.group=='N'"}],"mark":{"type":"point","shape":"square","filled":true,"size":80,"color":"#a6a6a6","opacity":1}},
  {"data":{"name":"pts"},"transform":[{"filter":"datum.panel=='amon' && datum.group=='I'"}],"mark":{"type":"point","shape":"triangle-up","filled":true,"size":85,"color":"#000000","opacity":1}},
  {"data":{"name":"stats"},"transform":[{"filter":"datum.panel=='amon'"}],"mark":{"type":"rule","color":"#000000","strokeWidth":2.3},"encoding":{"y":{"field":"lo","type":"quantitative"},"y2":{"field":"hi"}}},
  {"data":{"name":"stats"},"transform":[{"filter":"datum.panel=='amon'"}],"mark":{"type":"tick","orient":"horizontal","size":42,"thickness":2.3,"color":"#000000","opacity":1},"encoding":{"y":{"field":"med","type":"quantitative"}}},
  {"data":{"name":"stats"},"transform":[{"filter":"datum.panel=='amon'"}],"mark":{"type":"tick","orient":"horizontal","size":21,"thickness":2.3,"color":"#000000","opacity":1},"encoding":{"y":{"field":"lo","type":"quantitative"}}},
  {"data":{"name":"stats"},"transform":[{"filter":"datum.panel=='amon'"}],"mark":{"type":"tick","orient":"horizontal","size":21,"thickness":2.3,"color":"#000000","opacity":1},"encoding":{"y":{"field":"hi","type":"quantitative"}}},
  {"data":{"name":"sig"},"transform":[{"filter":"datum.panel=='amon'"}],"mark":{"type":"rule","color":"#000000","strokeWidth":1.2},"encoding":{"x":{"field":"x1","type":"quantitative"},"x2":{"field":"x2"}}},
  {"data":{"name":"ann"},"transform":[{"filter":"datum.panel=='amon'"}],"mark":{"type":"text","color":"#000000","baseline":"alphabetic","align":"center"},"encoding":{"text":{"field":"label"},"size":{"condition":[{"test":"datum.kind=='letter'","value":28},{"test":"datum.kind=='star'","value":16}],"value":15.5}}}
 ]},
{"width":10,"height":109,"data":{"values":[{}]},"mark":{"type":"point","opacity":0},"encoding":{}},
{"width":10,"height":109,"data":{"values":[{}]},"mark":{"type":"point","opacity":0},"encoding":{}},
{"width":10,"height":109,"data":{"values":[{}]},"mark":{"type":"point","opacity":0},"encoding":{}},
{"width":128,"height":127,"view":{"stroke":"#555555","strokeWidth":1},
 "encoding":{"x":{"field":"x","type":"quantitative","scale":{"domain":[0,100]},"axis":{"values":[21.9,38.8,64.8,89.3],"labelExpr":"datum.value < 30 ? '0' : datum.value < 50 ? '10³' : datum.value < 75 ? '10⁴' : '10⁵'","title":"<APC-A>:Arg1","domain":false,"labelFontSize":6,"tickSize":3,"tickWidth":0.8,"labelPadding":2,"titlePadding":18}},
  "y":{"field":"y","type":"quantitative","scale":{"domain":[0,104.4]},"axis":{"values":[0,20,40,60,80,100],"title":"%Arg1⁺ neutrophils","domain":false,"labelFontSize":6,"tickSize":3,"tickWidth":0.8,"labelPadding":2,"titlePadding":12,"titleFontSize":16.5}}},
 "layer":[
  {"data":{"name":"hist"},"transform":[{"filter":"datum.panel=='h1'"}],"mark":{"type":"line","strokeWidth":1},"encoding":{"color":{"field":"cond","type":"nominal","scale":{"domain":["ctrl","treated"],"range":["#1a1a1a","#4659c6"]},"legend":null}}},
  {"data":{"name":"gate"},"transform":[{"filter":"datum.panel=='h1'"}],"mark":{"type":"rule","color":"#333333","strokeWidth":1.2},"encoding":{"x":{"field":"x1","type":"quantitative"},"x2":{"field":"x2"}}},
  {"data":{"name":"gate"},"transform":[{"filter":"datum.panel=='h1'"}],"mark":{"type":"tick","orient":"vertical","size":6,"thickness":1.2,"color":"#333333","opacity":1},"encoding":{"x":{"field":"x1","type":"quantitative"}}},
  {"data":{"name":"gate"},"transform":[{"filter":"datum.panel=='h1'"}],"mark":{"type":"tick","orient":"vertical","size":6,"thickness":1.2,"color":"#333333","opacity":1},"encoding":{"x":{"field":"x2","type":"quantitative"}}}
 ]},
{"width":128,"height":127,"view":{"stroke":"#555555","strokeWidth":1},
 "encoding":{"x":{"field":"x","type":"quantitative","scale":{"domain":[0,100]},"axis":{"values":[22.6,39.6,66.4,90.8],"labelExpr":"datum.value < 30 ? '0' : datum.value < 50 ? '10³' : datum.value < 75 ? '10⁴' : '10⁵'","title":"<APC-A>:Arg1","domain":false,"labelFontSize":6,"tickSize":3,"tickWidth":0.8,"labelPadding":2,"titlePadding":18}},
  "y":{"field":"y","type":"quantitative","scale":{"domain":[0,104.4]},"axis":{"values":[0,20,40,60,80,100],"title":"%Arg1⁺ inflammatory MØ","domain":false,"labelFontSize":6,"tickSize":3,"tickWidth":0.8,"labelPadding":2,"titlePadding":12,"titleFontSize":16.5}}},
 "layer":[
  {"data":{"name":"hist"},"transform":[{"filter":"datum.panel=='h2'"}],"mark":{"type":"line","strokeWidth":1},"encoding":{"color":{"field":"cond","type":"nominal","scale":{"domain":["ctrl","treated"],"range":["#1a1a1a","#4659c6"]},"legend":null}}},
  {"data":{"name":"gate"},"transform":[{"filter":"datum.panel=='h2'"}],"mark":{"type":"rule","color":"#333333","strokeWidth":1.2},"encoding":{"x":{"field":"x1","type":"quantitative"},"x2":{"field":"x2"}}},
  {"data":{"name":"gate"},"transform":[{"filter":"datum.panel=='h2'"}],"mark":{"type":"tick","orient":"vertical","size":6,"thickness":1.2,"color":"#333333","opacity":1},"encoding":{"x":{"field":"x1","type":"quantitative"}}},
  {"data":{"name":"gate"},"transform":[{"filter":"datum.panel=='h2'"}],"mark":{"type":"tick","orient":"vertical","size":6,"thickness":1.2,"color":"#333333","opacity":1},"encoding":{"x":{"field":"x2","type":"quantitative"}}}
 ]},
{"width":128,"height":127,"view":{"stroke":"#555555","strokeWidth":1},
 "encoding":{"x":{"field":"x","type":"quantitative","scale":{"domain":[0,100]},"axis":{"values":[21.5,39.3,66,90],"labelExpr":"datum.value < 30 ? '0' : datum.value < 50 ? '10³' : datum.value < 75 ? '10⁴' : '10⁵'","title":"<APC-A>:Arg1","domain":false,"labelFontSize":6,"tickSize":3,"tickWidth":0.8,"labelPadding":2,"titlePadding":18}},
  "y":{"field":"y","type":"quantitative","scale":{"domain":[0,104.4]},"axis":{"values":[0,20,40,60,80,100],"title":"%Arg1⁺ monocytes","domain":false,"labelFontSize":6,"tickSize":3,"tickWidth":0.8,"labelPadding":2,"titlePadding":12,"titleFontSize":16.5}}},
 "layer":[
  {"data":{"name":"hist"},"transform":[{"filter":"datum.panel=='h3'"}],"mark":{"type":"line","strokeWidth":1},"encoding":{"color":{"field":"cond","type":"nominal","scale":{"domain":["ctrl","treated"],"range":["#1a1a1a","#4659c6"]},"legend":null}}},
  {"data":{"name":"gate"},"transform":[{"filter":"datum.panel=='h3'"}],"mark":{"type":"rule","color":"#333333","strokeWidth":1.2},"encoding":{"x":{"field":"x1","type":"quantitative"},"x2":{"field":"x2"}}},
  {"data":{"name":"gate"},"transform":[{"filter":"datum.panel=='h3'"}],"mark":{"type":"tick","orient":"vertical","size":6,"thickness":1.2,"color":"#333333","opacity":1},"encoding":{"x":{"field":"x1","type":"quantitative"}}},
  {"data":{"name":"gate"},"transform":[{"filter":"datum.panel=='h3'"}],"mark":{"type":"tick","orient":"vertical","size":6,"thickness":1.2,"color":"#333333","opacity":1},"encoding":{"x":{"field":"x2","type":"quantitative"}}},
  {"data":{"name":"legendBars"},"mark":{"type":"rule","strokeWidth":4},"encoding":{"x":{"field":"x1","type":"quantitative"},"x2":{"field":"x2"},"color":{"field":"cond","type":"nominal","legend":null}}},
  {"data":{"name":"legendText"},"transform":[{"filter":"datum.part=='strain'"}],"mark":{"type":"text","align":"left","baseline":"alphabetic","fontSize":13.5,"fontStyle":"italic","color":"#000000"},"encoding":{"text":{"field":"label"}}},
  {"data":{"name":"legendText"},"transform":[{"filter":"datum.part=='treatment'"}],"mark":{"type":"text","align":"left","baseline":"alphabetic","fontSize":13.5,"color":"#000000"},"encoding":{"text":{"field":"label"}}}
 ]}
],
"config": {
 "font": "Liberation Sans",
 "view": {"stroke": null},
 "text": {"font": "Liberation Sans"},
 "axis": {"domainColor":"#000000","domainWidth":2,"tickColor":"#000000","tickWidth":2,"tickSize":5,"labelFont":"Liberation Sans","labelFontSize":15,"labelColor":"#000000","labelPadding":2,"titleFont":"Liberation Sans","titleFontSize":16,"titleFontWeight":"normal","titleColor":"#000000","titlePadding":8,"grid":false,"labelOverlap":false}
}
}
